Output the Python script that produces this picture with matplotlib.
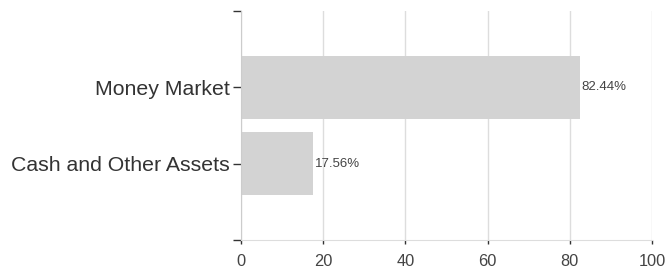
import matplotlib.pyplot as plt
import numpy as np

plt.rcParams['font.family'] = ['Liberation Sans', 'DejaVu Sans']

categories = ['Cash and Other Assets', 'Money Market']
values = [17.56, 82.44]
value_labels = ['17.56%', '82.44%']
x_ticks = [0, 20, 40, 60, 80, 100]

fig = plt.figure(figsize=(6.65, 2.71), dpi=100)
ax = fig.add_axes([241 / 665, 31 / 271, 411 / 665, 229 / 271])

ypos = np.arange(len(categories))
ax.barh(ypos, values, height=0.82, color='#d3d3d3', zorder=2)

for y, v, lab in zip(ypos, values, value_labels):
    ax.text(v + 0.4, y, lab, va='center', ha='left', fontsize=9.5, color='#444444', zorder=3)

ax.set_xlim(0, 100)
ax.set_ylim(-1, 2)
ax.set_xticks(x_ticks)
ax.set_xticklabels([str(t) for t in x_ticks], fontsize=11.8, color='#444444')
ax.set_yticks([-1, 0, 1, 2])
ax.set_yticklabels([''] + categories + [''], fontsize=15.3, color='#333333')

ax.grid(axis='x', color='#dddddd', linewidth=1, zorder=0)
for s in ['top', 'right']:
    ax.spines[s].set_visible(False)
ax.spines['left'].set_color('#cccccc')
ax.spines['bottom'].set_color('#dddddd')
ax.tick_params(axis='y', length=6, width=1, color='#333333', pad=2)
ax.tick_params(axis='x', length=3, width=1, color='#333333', pad=7)

fig.savefig('out.png', dpi=100)
